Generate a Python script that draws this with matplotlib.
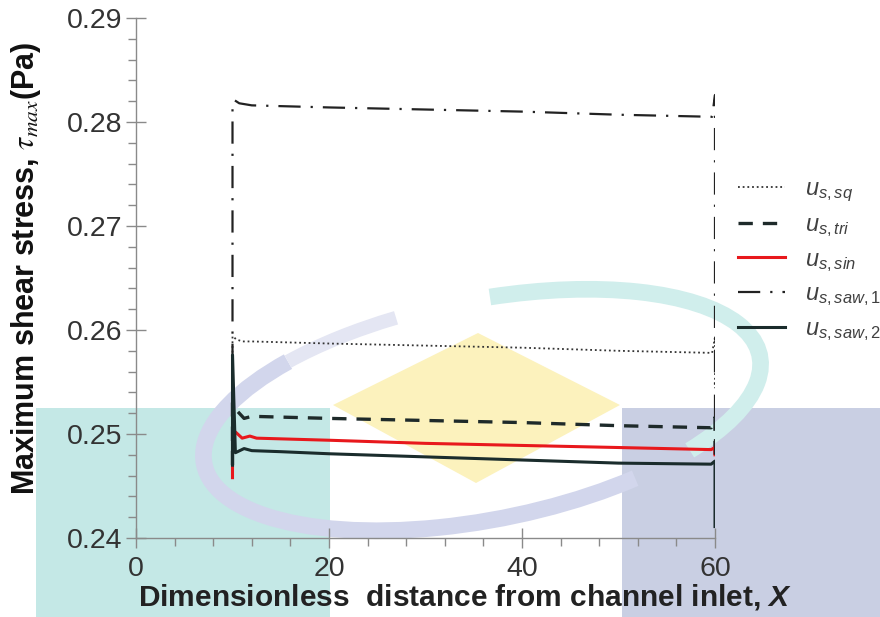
# -*- coding: utf-8 -*-
# Maximum shear stress along the channel for several wall velocity profiles

import matplotlib as mpl
import matplotlib.pyplot as plt
from matplotlib.patches import Rectangle, Polygon, Arc

# ----------------
# Data
# ----------------

x_sq = [10.0, 10.0, 10.4, 11.0, 12.0, 20.0, 30.0, 40.0, 50.0, 59.7, 60.0, 60.0]
y_sq = [0.2470, 0.2594, 0.2591, 0.2589, 0.2589, 0.2587, 0.2585, 0.2583, 0.2580, 0.2578, 0.2593, 0.2544]

x_tri = [10.0, 10.0, 10.5, 11.2, 12.0, 20.0, 30.0, 40.0, 50.0, 59.6, 60.0, 60.0]
y_tri = [0.2470, 0.2530, 0.2522, 0.2515, 0.2517, 0.2515, 0.2513, 0.2511, 0.2508, 0.2506, 0.2516, 0.2480]

x_sin = [10.0, 10.0, 10.3, 11.0, 11.8, 12.5, 20.0, 30.0, 40.0, 50.0, 59.6, 60.0, 60.0]
y_sin = [0.2458, 0.2502, 0.2502, 0.2496, 0.2498, 0.2496, 0.2494, 0.2491, 0.2489, 0.2487, 0.2485, 0.2487, 0.2480]

x_saw1 = [10.0, 10.0, 10.2, 10.7, 12.0, 20.0, 30.0, 40.0, 50.0, 59.7, 60.0, 60.0]
y_saw1 = [0.2480, 0.2815, 0.2821, 0.2818, 0.2816, 0.2814, 0.2812, 0.2810, 0.2807, 0.2805, 0.2826, 0.2480]

x_saw2 = [10.0, 10.0, 10.3, 11.2, 12.0, 15.0, 20.0, 30.0, 40.0, 50.0, 59.6, 60.0, 60.0]
y_saw2 = [0.2470, 0.2576, 0.2482, 0.2486, 0.2484, 0.2483, 0.2481, 0.2478, 0.2475, 0.2472, 0.2471, 0.2474, 0.2411]

labels = [r"$u_{s,sq}$", r"$u_{s,tri}$", r"$u_{s,sin}$", r"$u_{s,saw,1}$", r"$u_{s,saw,2}$"]

# -----------------
# Matplotlib styles
# -----------------

mpl.rcParams["font.family"] = ["Liberation Sans", "DejaVu Sans"]
mpl.rcParams["mathtext.fontset"] = "custom"
mpl.rcParams["mathtext.rm"] = "Liberation Sans"
mpl.rcParams["mathtext.it"] = "Liberation Sans:italic"
mpl.rcParams["mathtext.bfit"] = "Liberation Sans:italic:bold"

W, H = 880, 617
fig = plt.figure(figsize=(W / 100, H / 100), dpi=100)

# background logo (watermark), drawn in pixel coordinates
bg = fig.add_axes([0, 0, 1, 1], zorder=0)
bg.set_xlim(0, W)
bg.set_ylim(H, 0)
bg.axis("off")
bg.add_patch(Rectangle((36, 408), 294, 209, color="#c4e8e6", lw=0))
bg.add_patch(Rectangle((622, 408), 258, 209, color="#c9cfe3", lw=0))
bg.add_patch(Polygon([(333, 405), (478, 333), (620, 405), (476, 483)], color="#fcf2bd", lw=0))
bg.add_patch(Arc((482, 410), 566, 220, angle=-11, theta1=35, theta2=205,
                 color="#d2d6ec", lw=12))
bg.add_patch(Arc((482, 410), 566, 220, angle=-11, theta1=205, theta2=238,
                 color="#e4e6f3", lw=10))
bg.add_patch(Arc((482, 410), 566, 220, angle=-11, theta1=285, theta2=382,
                 color="#d0eeec", lw=12))

ax = fig.add_axes([136 / W, 1 - 538 / H, (715 - 136) / W, (538 - 18) / H], zorder=1)
ax.set_facecolor("none")

ax.plot(x_sq, y_sq, color="#333333", lw=1.3, ls=(0, (1, 1.6)), label=labels[0])
ax.plot(x_tri, y_tri, color="#1e2a2a", lw=2.4, ls=(0, (4.3, 3)), label=labels[1])
ax.plot(x_sin, y_sin, color="#e8181c", lw=2.2, label=labels[2])
ax.plot(x_saw1, y_saw1, color="#222222", lw=1.6, ls=(0, (10, 4.5, 1, 4.5)), label=labels[3])
ax.plot(x_saw2, y_saw2, color="#1a2c2c", lw=2.2, label=labels[4])

ax.set_xlim(0, 60)
ax.set_ylim(0.24, 0.29)
ax.set_xticks([0, 20, 40, 60])
ax.set_yticks([0.24, 0.25, 0.26, 0.27, 0.28, 0.29])
ax.set_xticks(range(0, 61, 4), minor=True)
ax.set_yticks([0.24 + 0.002 * i for i in range(26)], minor=True)
ax.set_yticklabels(["0.24", "0.25", "0.26", "0.27", "0.28", "0.29"])

for side in ("top", "right"):
    ax.spines[side].set_visible(False)
for side in ("left", "bottom"):
    ax.spines[side].set_color("#8a8a8a")
    ax.spines[side].set_linewidth(1.0)

ax.tick_params(which="major", direction="inout", length=14, width=1.0,
               color="#8a8a8a", labelsize=20.5, labelcolor="#333333")
ax.tick_params(which="minor", direction="out", length=5.5, width=1.0, color="#8a8a8a")
ax.tick_params(axis="x", which="major", pad=6)
ax.tick_params(axis="y", which="major", pad=3)

ax.set_xlabel(r"Dimensionless  distance from channel inlet, $\mathbfit{X}$",
              fontsize=21.5, fontweight="bold", color="#222222")
ax.xaxis.set_label_coords((465 - 136) / 579, -(582 - 538) / 520)
ylab = ax.set_ylabel(r"Maximum shear stress, $\tau_{max}$(Pa)",
                     fontsize=22, fontweight="bold", color="#111111")
ylab.set_math_fontfamily("stix")
ax.yaxis.set_label_coords(-(136 - 43) / 579, (538 - 268) / 520)

leg = ax.legend(loc="upper left", bbox_to_anchor=(738 / W, 1 - 178 / H),
                bbox_transform=fig.transFigure, frameon=False, fontsize=17,
                handlelength=2.0, handletextpad=0.85, labelspacing=0.42,
                borderpad=0, borderaxespad=0)
for t in leg.get_texts():
    t.set_color("#404040")

fig.savefig("out.png", dpi=100)
